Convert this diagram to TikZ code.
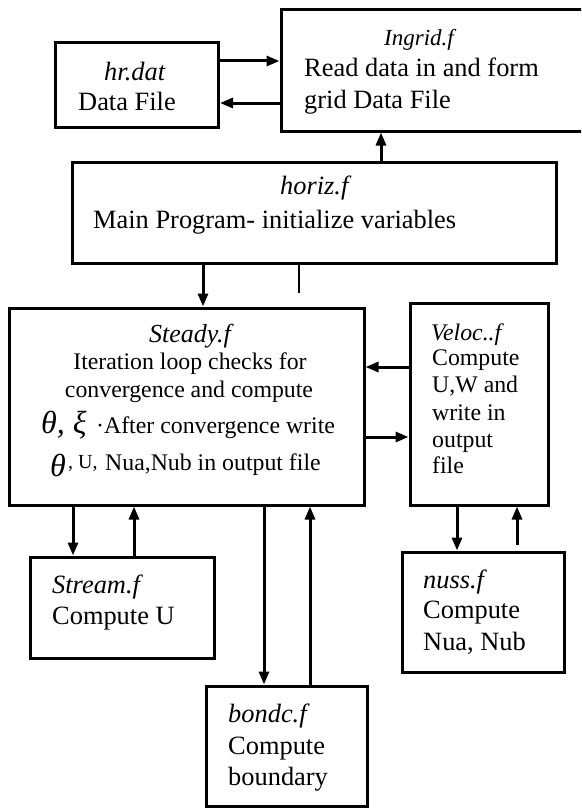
\documentclass[tikz,border=0pt]{standalone}
\usepackage{fontspec}
\setmainfont{Liberation Serif}
\usetikzlibrary{arrows.meta}
\tikzset{
  box/.style={draw, line width=3pt, inner sep=0pt, rectangle},
  arr/.style={line width=3pt, -{Triangle[length=13pt,width=10pt]}},
  thin/.style={line width=1.5pt},
  big/.style={font=\fontsize{26.4}{32}\selectfont, inner sep=0pt, anchor=base west},
  bigit/.style={font=\fontsize{26.4}{32}\selectfont\itshape, inner sep=0pt, anchor=base west},
  mid/.style={font=\fontsize{23.8}{27}\selectfont, inner sep=0pt, anchor=base west},
  midit/.style={font=\fontsize{23.8}{27}\selectfont\itshape, inner sep=0pt, anchor=base west},
  greek/.style={font=\fontsize{32}{32}\selectfont\itshape, inner sep=0pt, anchor=base west},
  small/.style={font=\fontsize{20}{22}\selectfont, inner sep=0pt, anchor=base west},
}
\begin{document}
\begin{tikzpicture}[x=1pt,y=-1pt]
\useasboundingbox (0,0) rectangle (581,808);
\clip (0,0) rectangle (581,808);
% boxes
\node[box, minimum width=163pt, minimum height=84pt] (hr) at (137,85) {};
\node[box, minimum width=309pt, minimum height=121.5pt] (ingrid) at (435.5,70.25) {};
\node[box, minimum width=484pt, minimum height=100.5pt] (horiz) at (314,212.75) {};
\node[box, minimum width=355pt, minimum height=197pt] (steady) at (186.5,406.5) {};
\node[box, minimum width=138pt, minimum height=202pt] (veloc) at (479,404) {};
\node[box, minimum width=184pt, minimum height=101pt] (stream) at (122,607.5) {};
\node[box, minimum width=162pt, minimum height=120pt] (nuss) at (483,612) {};
\node[box, minimum width=161pt, minimum height=120pt] (bondc) at (286.5,746) {};
% texts
\node[bigit] (t-hr1) at (104,80) {hr.dat};
\node[big] (t-hr2) at (78,110) {Data File};
\node[bigit, font=\fontsize{23}{32}\selectfont\itshape] (t-in1) at (384,45.5) {Ingrid.f};
\node[big] (t-in2) at (304,77) {Read data in and form};
\node[big] (t-in3) at (304,108.5) {grid Data File};
\node[bigit] (t-ho1) at (280,194) {horiz.f};
\node[big] (t-ho2) at (93,228) {Main Program- initialize variables};
\node[bigit, font=\fontsize{26}{32}\selectfont\itshape, anchor=base] (t-st1) at (190,342) {Steady.f};
\node[mid, anchor=base] (t-st2) at (190,369) {Iteration loop checks for};
\node[mid, anchor=base] (t-st3) at (189,397) {convergence and compute};
\node[greek] (t-st4a) at (41,433) {θ, ξ};
\node[mid] (t-st4b) at (96,433) {·After convergence write};
\node[greek] (t-st5a) at (50,476) {θ};
\node[small] (t-st5b) at (68,468) {, U,};
\node[mid] (t-st5c) at (105,470) {Nua,Nub in output file};
\node[midit] (t-ve1) at (431,340) {Veloc..f};
\node[mid] (t-ve2) at (432,365) {Compute};
\node[mid] (t-ve3) at (432,392) {U,W and};
\node[mid] (t-ve4) at (432,420) {write in};
\node[mid] (t-ve5) at (432,447) {output};
\node[mid] (t-ve6) at (432,473) {file};
\node[bigit] (t-sr1) at (52,593) {Stream.f};
\node[big] (t-sr2) at (52,624) {Compute U};
\node[bigit] (t-nu1) at (423,588) {nuss.f};
\node[big] (t-nu2) at (423,618) {Compute};
\node[big] (t-nu3) at (423,650) {Nua, Nub};
\node[bigit] (t-bo1) at (228,722) {bondc.f};
\node[big] (t-bo2) at (228,754) {Compute};
\node[big] (t-bo3) at (228,785) {boundary};
% connectors
\draw[arr] (hr.east |- 0,61) -- (ingrid.west |- 0,61);
\draw[arr] (ingrid.west |- 0,103) -- (hr.east |- 0,103);
\draw[arr] (horiz.north -| 381,0) -- (ingrid.south -| 381,0);
\draw[arr] (horiz.south -| 203,0) -- (steady.north -| 203,0);
\coordinate (tick) at (299,293);
\draw[thin] (horiz.south -| tick) -- (tick);
\draw[arr] (veloc.west |- 0,367) -- (steady.east |- 0,367);
\draw[arr] (steady.east |- 0,437) -- (veloc.west |- 0,437);
\draw[arr] (steady.south -| 73,0) -- (stream.north -| 73,0);
\draw[arr] (stream.north -| 134,0) -- (steady.south -| 134,0);
\draw[arr] (steady.south -| 264,0) -- (bondc.north -| 264,0);
\draw[arr] (bondc.north -| 310,0) -- (steady.south -| 310,0);
\draw[arr] (veloc.south -| 457,0) -- (nuss.north -| 457,0);
\coordinate (nu-up) at (517,545);
\draw[arr] (nu-up) -- (veloc.south -| nu-up);
\end{tikzpicture}
\end{document}
